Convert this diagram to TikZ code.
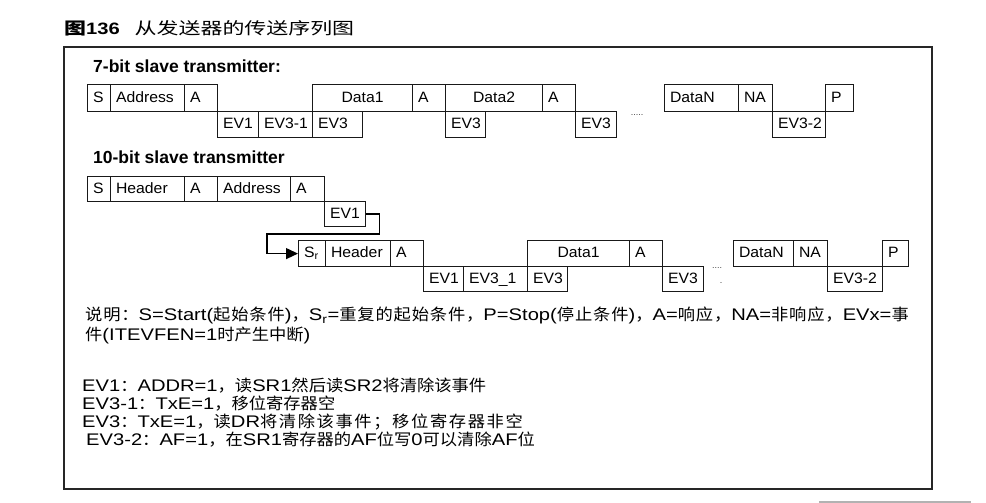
\documentclass[tikz,border=0pt]{standalone}
\usepackage{fontspec}
\setmainfont{Liberation Sans}
\newfontfamily\boxfont[FakeStretch=1.05]{Liberation Sans}
\newfontfamily\parfont[FakeStretch=1.2]{Liberation Sans}
\newfontfamily\ttlfont[FakeStretch=1.22]{Liberation Sans}
\newfontfamily\cjk[FakeStretch=1.08]{Noto Sans CJK SC}
\newfontfamily\cjkwide[FakeStretch=1.08, LetterSpace=5.3]{Noto Sans CJK SC}
\newfontfamily\cjkwider[FakeStretch=1.08, LetterSpace=10]{Noto Sans CJK SC}
\newfontfamily\ttlcjk[FakeStretch=1.33]{Noto Sans CJK SC}
\usetikzlibrary{arrows.meta}

\newcommand\zh[1]{{\cjk\fontsize{16}{20}\selectfont #1}}
\newcommand\zhw[1]{{\cjkwide\fontsize{16}{20}\selectfont #1}}
\newcommand\zhx[1]{{\cjkwider\fontsize{16}{20}\selectfont #1}}

\tikzset{
  fld/.style={draw=black!90, line width=1.2pt, anchor=north west,
    inner xsep=5.5pt, inner ysep=0pt, text height=11pt, text depth=3pt,
    font=\boxfont\fontsize{15}{18}\selectfont},
  hd/.style={anchor=base west, inner sep=0pt, font=\bfseries\fontsize{17.5}{20}\selectfont},
  note/.style={anchor=base west, inner sep=0pt, font=\parfont\fontsize{16.8}{20}\selectfont},
  dots/.style={anchor=base, inner sep=0pt, text=black!75, font=\fontsize{9}{10}\selectfont},
  conn/.style={line width=1.3pt, -{Triangle[length=12pt,width=11pt]}}
}

% one row of fields: top, height, list name/x1/x2/align/text
\newcommand\fldrow[3]{%
  \foreach \n/\xa/\xb/\al/\lab in {#3}{
    \pgfmathsetmacro\w{\xb-\xa}
    \pgfmathsetmacro\tw{\w-11}
    \node[fld, minimum width=\w pt, minimum height=#2pt] (\n) at (\xa,#1) {\makebox[\tw pt][\al]{\lab}};
  }}

\begin{document}
\begin{tikzpicture}[x=1pt, y=-1pt]
\useasboundingbox (0,0) rectangle (986,503);

% title and frame
\node[anchor=base west, inner sep=0pt] (title) at (64,34.3)
  {{\ttlcjk\bfseries\fontsize{16.5}{20}\selectfont 图}{\ttlfont\bfseries\fontsize{16.5}{20}\selectfont 136}\hspace{15pt}{\ttlcjk\fontsize{16.5}{20}\selectfont 从发送器的传送序列图}};
\draw[line width=1.8pt, black!85] (64,47) rectangle (932,489);
\fill[gray!60] (819,501) rectangle (971,503);

% 7-bit
\node[hd] (hd7) at (93,73) {7-bit slave transmitter:};
\fldrow{84}{27}{s7/87/110/l/S, ad7/110/184/l/Address, a7/184/217/l/A,
  d17/312/412/c/Data1, a17/412/445/l/A, d27/445/542/c/Data2, a27/542/575/l/A,
  dn7/664/738/l/DataN, na7/738/772/l/NA, p7/825/853/l/P}
\fldrow{111}{26}{e17/217/258/l/EV1, e317/258/312/l/EV3-1, e37a/312/362/l/EV3,
  e37b/445/485/l/EV3, e37c/575/616/l/EV3, e327/772/825/l/EV3-2}
\node[dots] (dots7) at (637,115) {.....};

% 10-bit
\node[hd] (hd10) at (93,163.3) {10-bit slave transmitter};
\fldrow{176}{25}{s10/87/110/l/S, h10/110/184/l/Header, a10a/184/217/l/A,
  ad10/217/290/l/Address, a10b/290/324/l/A}
\fldrow{201}{25}{e110/324/365/l/EV1}
\fldrow{240}{26}{sr/298/325/l/S\textsubscript{r}, hr/325/390/l/Header, ar/390/423/l/A,
  d1r/527/629/c/Data1, a1r/629/662/l/A, dnr/733/793/l/DataN, nar/793/827/l/NA,
  pr/882/908/l/P}
\fldrow{266}{25}{e1r/423/463/l/EV1, e31r/463/527/l/EV3\_1, e3ra/527/567/l/EV3,
  e3rb/662/703/l/EV3, e32r/827/882/l/EV3-2}
\node[dots] (dots10) at (717,268) {....};
\node[dots] (dot10) at (721,283) {.};

\coordinate (turn) at (267,234);
\draw[conn] (e110.east) -- ++(13,0) |- (turn) |- (sr.west);

% notes
\node[note] (note1) at (85,320.7) {\zhw{说明：}S=Start(\zhw{起始条件})\zhw{，}S\textsubscript{r}=\zhw{重复的起始条件，}P=Stop(\zhw{停止条件})\zhw{，}A=\zhw{响应，}NA=\zhw{非响应，}EVx=\zhw{事}};
\node[note] (note2) at (85,340.7) {\zh{件}(ITEVFEN=1\zh{时产生中断})};
\node[note] (ev1txt) at (82,391.3) {EV1\zh{：}ADDR=1\zh{，读}SR1\zh{然后读}SR2\zh{将清除该事件}};
\node[note] (ev31txt) at (82,409.3) {EV3-1\zh{：}TxE=1\zh{，移位寄存器空}};
\node[note] (ev3txt) at (82,427.7) {EV3\zh{：}TxE=1\zh{，读}DR\zhx{将清除该事件；移位寄存器非空}};
\node[note] (ev32txt) at (86,445.3) {EV3-2\zh{：}AF=1\zh{，在}SR1\zh{寄存器的}AF\zh{位写}0\zh{可以清除}AF\zh{位}};
\end{tikzpicture}
\end{document}
